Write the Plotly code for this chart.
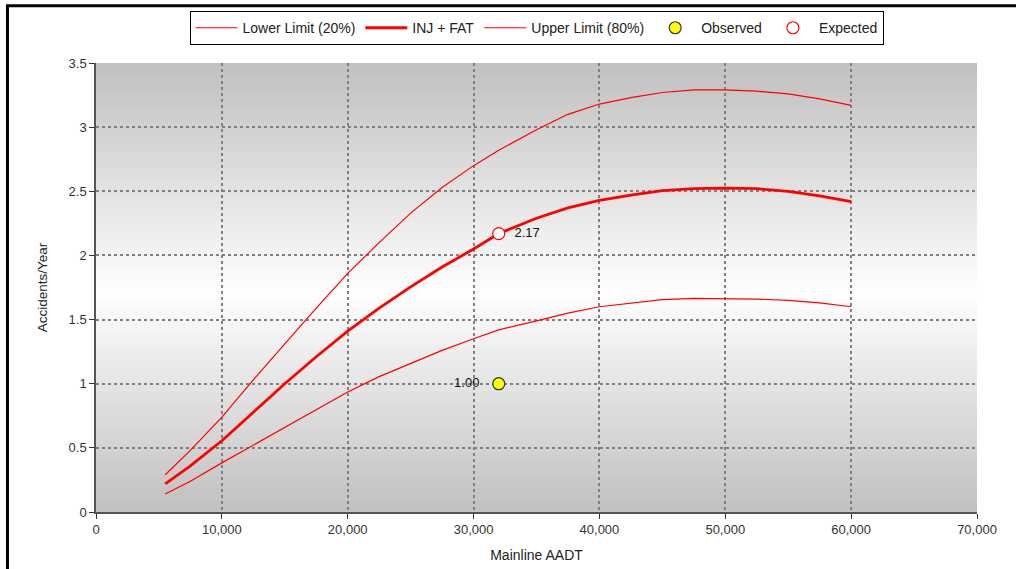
import plotly.graph_objects as go

# Mainline AADT sample points for the prediction curves
aadt = [5500, 7500, 10000, 12500, 15000, 17500, 20000, 22500, 25000, 27500,
        30000, 32000, 35000, 37500, 40000, 42500, 45000, 47500, 50000, 52500,
        55000, 57500, 60000]

# Predicted injury + fatal accidents per year with 20% / 80% limits
inj_fat = [0.22, 0.36, 0.555, 0.78, 1.00, 1.21, 1.41, 1.59, 1.755, 1.91,
           2.05, 2.17, 2.29, 2.37, 2.43, 2.47, 2.505, 2.52, 2.525, 2.52,
           2.50, 2.465, 2.42]
lower_20 = [0.14, 0.24, 0.383, 0.52, 0.66, 0.80, 0.935, 1.055, 1.16, 1.26,
            1.35, 1.42, 1.49, 1.55, 1.60, 1.63, 1.655, 1.665, 1.665, 1.66,
            1.65, 1.63, 1.60]
upper_80 = [0.29, 0.48, 0.74, 1.03, 1.31, 1.59, 1.86, 2.10, 2.33, 2.53,
            2.70, 2.82, 2.98, 3.10, 3.18, 3.23, 3.27, 3.29, 3.29, 3.28,
            3.26, 3.22, 3.17]

# Site values
site_aadt = [32000]
observed = [1.00]
expected = [2.17]

x_ticks = [0, 10000, 20000, 30000, 40000, 50000, 60000, 70000]
y_ticks = [0, 0.5, 1, 1.5, 2, 2.5, 3, 3.5]

FONT = "Liberation Sans, Arial, sans-serif"
RED = "#ff0000"

fig = go.Figure()

fig.add_trace(go.Scatter(x=aadt, y=lower_20, mode="lines", name="Lower Limit (20%)",
                         line=dict(color=RED, width=1.2)))
fig.add_trace(go.Scatter(x=aadt, y=inj_fat, mode="lines", name="INJ + FAT",
                         line=dict(color=RED, width=2.8)))
fig.add_trace(go.Scatter(x=aadt, y=upper_80, mode="lines", name="Upper Limit (80%)",
                         line=dict(color=RED, width=1.2)))
fig.add_trace(go.Scatter(x=site_aadt, y=observed, mode="markers+text", name="Observed",
                         marker=dict(color="#ffff00", size=12,
                                     line=dict(color="#333333", width=1.2)),
                         text=[f"{v:.2f}   " for v in observed],
                         textposition="middle left",
                         textfont=dict(family=FONT, size=13, color="#111111")))
fig.add_trace(go.Scatter(x=site_aadt, y=expected, mode="markers+text", name="Expected",
                         marker=dict(color="#ffffff", size=12,
                                     line=dict(color=RED, width=1.2)),
                         text=[f"  {v:.2f}" for v in expected],
                         textposition="middle right",
                         textfont=dict(family=FONT, size=13, color="#111111")))

# Vertical gray gradient behind the plot area (dark at top and bottom, light in the middle).
# Bands overlap so no seams show between them.
n_bands = 90
y_lo, y_hi, y_mid = 0.0, 3.5, 1.7
step = (y_hi - y_lo) / n_bands
shapes = []
for i in range(n_bands):
    b0 = y_lo + step * i
    c = b0 + step / 2
    if c <= y_mid:
        t = (y_mid - c) / (y_mid - y_lo)
    else:
        t = (c - y_mid) / (y_hi - y_mid)
    g = round(254 - t * (254 - 192))
    shapes.append(dict(type="rect", xref="paper", yref="y", x0=0, x1=1,
                       y0=b0, y1=min(b0 + step * 2, y_hi),
                       fillcolor=f"rgb({g},{g},{g})", line=dict(width=0), layer="below"))

# Outer frame around the chart
shapes.append(dict(type="rect", xref="paper", yref="paper",
                   x0=-0.1005, x1=1.06, y0=-0.2, y1=1.1275,
                   line=dict(color="#000000", width=3), fillcolor="rgba(0,0,0,0)",
                   layer="above"))

fig.update_layout(
    width=1016, height=569,
    margin=dict(l=96, r=39, t=62, b=57),
    paper_bgcolor="#ffffff",
    plot_bgcolor="#c4c4c4",
    font=dict(family=FONT, size=13, color="#333333"),
    shapes=shapes,
    showlegend=True,
    legend=dict(orientation="h", x=0.5, xanchor="center", y=1.113, yanchor="top",
                bordercolor="#000000", borderwidth=1, bgcolor="#ffffff",
                font=dict(family=FONT, size=14, color="#222222"),
                itemwidth=42, tracegroupgap=0),
)

fig.update_xaxes(range=[0, 70000], tickvals=x_ticks, tickformat=",", automargin=False,
                 showgrid=True, gridcolor="#808080", gridwidth=2, griddash="3px,3px",
                 zeroline=False, showline=True, linecolor="#555555", linewidth=1.5,
                 ticks="outside", ticklen=5, tickcolor="#333333",
                 tickfont=dict(family=FONT, size=13, color="#333333"),
                 title=dict(text="Mainline AADT", standoff=14,
                            font=dict(family=FONT, size=14, color="#222222")))
fig.update_yaxes(range=[0, 3.5], tickvals=y_ticks, automargin=False,
                 showgrid=True, gridcolor="#808080", gridwidth=2, griddash="3px,3px",
                 zeroline=False, showline=True, linecolor="#555555", linewidth=1.5,
                 ticks="outside", ticklen=5, tickcolor="#333333",
                 tickfont=dict(family=FONT, size=13, color="#333333"),
                 title=dict(text="Accidents/Year", standoff=18,
                            font=dict(family=FONT, size=13.5, color="#222222")))

fig.write_html("out.html")
